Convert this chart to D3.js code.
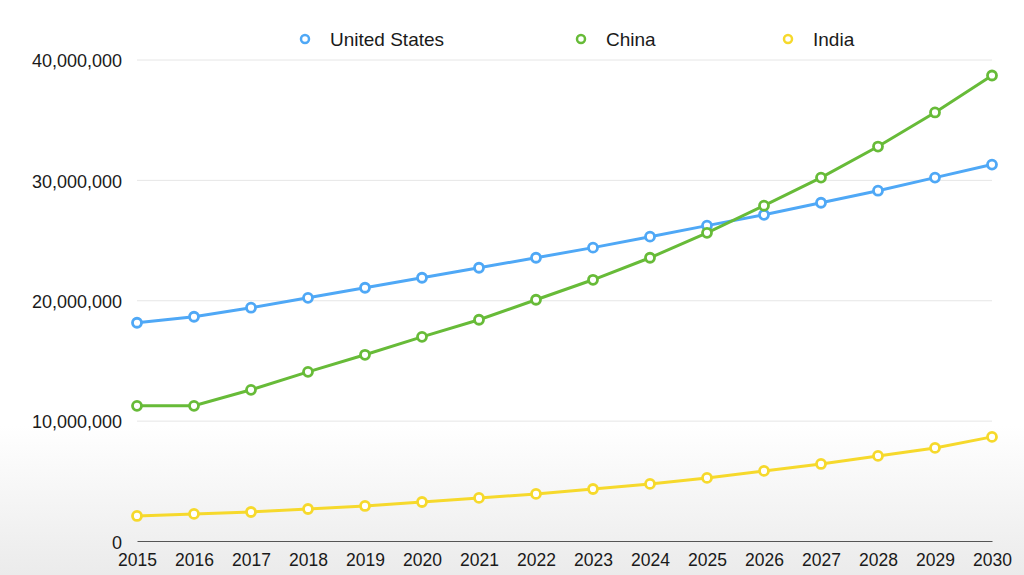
<!DOCTYPE html>
<html>
<head>
<meta charset="utf-8">
<script src="https://cdn.jsdelivr.net/npm/d3@7"></script>
<style>
  html, body { margin: 0; padding: 0; background: #fff; }
  svg { display: block; font-family: "Liberation Sans", Arial, Helvetica, sans-serif; }
</style>
</head>
<body>
<div id="chart"></div>
<script>
// values
var years = [2015, 2016, 2017, 2018, 2019, 2020, 2021, 2022, 2023, 2024, 2025, 2026, 2027, 2028, 2029, 2030];
var usValues = [18130000, 18630000, 19380000, 20200000, 21040000, 21870000, 22700000, 23530000,
                24370000, 25280000, 26200000, 27100000, 28100000, 29100000, 30190000, 31270000];
var chinaValues = [11230000, 11230000, 12560000, 14050000, 15470000, 16960000, 18380000, 20040000,
                   21700000, 23530000, 25600000, 27860000, 30190000, 32770000, 35600000, 38670000];
var indiaValues = [2080000, 2250000, 2410000, 2660000, 2910000, 3240000, 3580000, 3910000,
                   4320000, 4740000, 5240000, 5820000, 6400000, 7070000, 7730000, 8650000];
var seriesNames = ['United States', 'China', 'India'];
var seriesColors = ['#4fa8f6', '#67bb38', '#f6d92c'];
var yTicks = [0, 10000000, 20000000, 30000000, 40000000];

var series = [usValues, chinaValues, indiaValues].map(function(v, i) {
    return { name: seriesNames[i], color: seriesColors[i], values: v };
});

var W = 1024, H = 575;
var margin = {top: 59.5, right: 32, bottom: 34, left: 137};
var width = W - margin.left - margin.right,
    height = H - margin.top - margin.bottom;

var svg = d3.select('#chart')
  .append('svg')
    .attr('width', W)
    .attr('height', H);

// faint grey shading at the bottom of the picture
var grad = svg.append('defs').append('linearGradient')
    .attr('id', 'bg')
    .attr('x1', 0).attr('y1', 0).attr('x2', 0).attr('y2', 1);
grad.append('stop').attr('offset', '0%').attr('stop-color', '#ffffff');
grad.append('stop').attr('offset', '74%').attr('stop-color', '#ffffff');
grad.append('stop').attr('offset', '100%').attr('stop-color', '#ebebeb');
svg.append('rect').attr('width', W).attr('height', H).attr('fill', 'url(#bg)');

var g = svg.append('g')
    .attr('transform', 'translate(' + margin.left + ',' + margin.top + ')');

var x = d3.scaleLinear()
    .domain([years[0], years[years.length - 1]])
    .range([0, width]);
var y = d3.scaleLinear()
    .domain([0, 40000000])
    .range([height, 0]);

// gridlines + y labels
var yAxis = g.append('g')
    .call(d3.axisLeft(y).tickValues(yTicks).tickSize(-width).tickPadding(15)
        .tickFormat(d3.format(',')));
yAxis.select('.domain').remove();
yAxis.selectAll('.tick line').attr('stroke', '#e6e6e6').attr('stroke-width', 1);
yAxis.selectAll('.tick').filter(function(d) { return d === 0; }).select('line').remove();
yAxis.selectAll('.tick text')
    .attr('fill', '#1a1a1a')
    .attr('font-size', 18)
    .attr('dy', '0.4em');

// x axis
var xAxis = g.append('g')
    .attr('transform', 'translate(0,' + height + ')')
    .call(d3.axisBottom(x).tickValues(years).tickSize(0).tickPadding(13)
        .tickFormat(d3.format('d')));
xAxis.select('.domain').attr('stroke', '#555').attr('stroke-width', 1.2);
xAxis.selectAll('.tick text')
    .attr('fill', '#1a1a1a')
    .attr('font-size', 17.5);

var line = d3.line()
    .x(function(d, i) { return x(years[i]); })
    .y(function(d) { return y(d); });

series.forEach(function(s) {
    g.append('path')
        .datum(s.values)
        .attr('fill', 'none')
        .attr('stroke', s.color)
        .attr('stroke-width', 3)
        .attr('d', line);
    g.selectAll(null)
        .data(s.values)
        .enter().append('circle')
        .attr('cx', function(d, i) { return x(years[i]); })
        .attr('cy', function(d) { return y(d); })
        .attr('r', 4.5)
        .attr('fill', '#fff')
        .attr('stroke', s.color)
        .attr('stroke-width', 2.8);
});

// legend
var legendX = [305, 581, 788];
var legend = svg.append('g');
series.forEach(function(s, i) {
    legend.append('circle')
        .attr('cx', legendX[i])
        .attr('cy', 39)
        .attr('r', 4)
        .attr('fill', '#fff')
        .attr('stroke', s.color)
        .attr('stroke-width', 2.5);
    legend.append('text')
        .attr('x', legendX[i] + 25)
        .attr('y', 39)
        .attr('dy', '0.36em')
        .attr('fill', '#1a1a1a')
        .attr('font-size', 19)
        .text(s.name);
});
</script>
</body>
</html>
